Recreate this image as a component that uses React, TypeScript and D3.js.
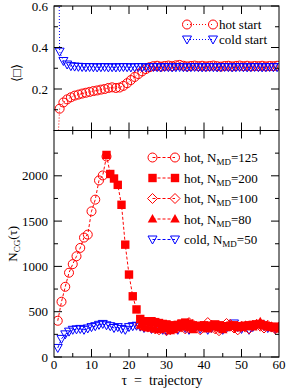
import * as d3 from "d3";

// top panel: plaquette, tau = 1.5 .. 59.5 (step 1)
const hotStart: number[] = [
  0.105, 0.135, 0.150, 0.160, 0.168, 0.173, 0.178, 0.182, 0.186, 0.190,
  0.193, 0.197, 0.200, 0.205, 0.208, 0.205, 0.207, 0.215, 0.228, 0.243,
  0.258, 0.272, 0.285, 0.296, 0.305, 0.310, 0.312, 0.308, 0.311, 0.313,
  0.310, 0.314, 0.316, 0.312, 0.309, 0.311, 0.313, 0.310, 0.312, 0.309,
  0.311, 0.313, 0.310, 0.308, 0.311, 0.312, 0.309, 0.311, 0.313, 0.310,
  0.312, 0.309, 0.311, 0.310, 0.312, 0.309, 0.311, 0.310, 0.312,
];
const coldStart: number[] = [
  0.380, 0.335, 0.318, 0.310, 0.308, 0.307, 0.306, 0.305, 0.306, 0.305,
  0.304, 0.305, 0.306, 0.304, 0.305, 0.304, 0.305, 0.306, 0.305, 0.304,
  0.305, 0.306, 0.305, 0.304, 0.305, 0.306, 0.305, 0.304, 0.306, 0.305,
  0.304, 0.305, 0.306, 0.305, 0.304, 0.305, 0.306, 0.305, 0.304, 0.305,
  0.306, 0.305, 0.304, 0.305, 0.306, 0.305, 0.304, 0.305, 0.306, 0.305,
  0.304, 0.305, 0.306, 0.305, 0.304, 0.305, 0.306, 0.305, 0.305,
];
const topTau = hotStart.map((_, i) => 1.5 + i);
// starting configurations (only the dotted line reaches them)
const hotInit = 0.0;
const coldInit = 1.0;
const initTau = 1.2;

// bottom panel: CG iterations
const hot125: number[] = [400, 610, 775, 930, 1025, 1112, 1204, 1318, 1351, 1608, 1737, 1949, 2004, 2213];
const hot125Tau = hot125.map((_, i) => 1 + i);

const hot200: number[] = [
  2230, 2020, 1970, 1900, 1680, 1240, 910, 670, 525, 420,
  395, 390, 395, 385, 375, 365, 360, 350, 345, 355,
  370, 380, 365, 350, 340, 345, 350, 340, 345, 360,
  350, 340, 330, 345, 350, 340, 335, 345, 350, 355,
  360, 365, 350, 340, 330, 335, 320,
];
const hot200Tau = hot200.map((_, i) => 14 + i);

const hot100: number[] = [
  360, 340, 330, 320, 310, 300, 320, 290, 300, 320,
  350, 330, 310, 380, 360, 320, 300, 340, 380, 350,
  310, 290, 330, 370, 360, 320, 300, 340, 330, 310,
  350, 360, 340, 320, 350, 330, 310, 330,
];
const hot100Tau = hot100.map((_, i) => 23 + i);

const hot80: number[] = [
  350, 330, 320, 330, 310, 300, 320, 310, 290, 300,
  320, 330, 340, 320, 300, 330, 340, 320, 310, 330,
  340, 320, 300, 330, 350, 340, 320, 330, 350, 340,
  330, 360, 390, 350, 330, 340, 320, 310,
];
const hot80Tau = hot80.map((_, i) => 23 + i);

const cold50: number[] = [
  100, 200, 250, 280, 300, 305, 310, 300, 315, 330,
  340, 355, 365, 350, 340, 320, 330, 310, 300, 330,
  340, 345, 335, 320, 330, 310, 320, 330, 300, 290,
  310, 330, 300, 340, 320, 300, 330, 340, 310, 330,
  300, 320, 350, 330, 300, 320, 340, 370, 330, 310,
  340, 300, 330, 350, 360, 340, 320, 330, 310, 320,
];
const cold50Tau = cold50.map((_, i) => 1 + i);

const xTicks = [0, 10, 20, 30, 40, 50, 60];
const topYTicks = [0.2, 0.4, 0.6];
const botYTicks = [0, 500, 1000, 1500, 2000];

const RED = "#ff0000";
const BLUE = "#0000ff";
const FONT = "Liberation Serif, Times New Roman, DejaVu Serif, serif";

type Pt = [number, number];

function marker(kind: string, x: number, y: number, color: string, key: any) {
  const s = 4.2;
  if (kind === "circle")
    return <circle key={key} cx={x} cy={y} r={4.5} fill="none" stroke={color} strokeWidth={1} />;
  if (kind === "square")
    return <rect key={key} x={x - s} y={y - s} width={2 * s} height={2 * s} fill={color} />;
  if (kind === "diamond")
    return <path key={key} d={`M${x},${y - 5}L${x + 5},${y}L${x},${y + 5}L${x - 5},${y}Z`} fill="none" stroke={color} strokeWidth={1} />;
  if (kind === "tri-up")
    return <path key={key} d={`M${x},${y - 5}L${x + 4.8},${y + 3.5}L${x - 4.8},${y + 3.5}Z`} fill={color} />;
  // tri-down
  return <path key={key} d={`M${x - 4.5},${y - 3.5}L${x + 4.5},${y - 3.5}L${x},${y + 4.5}Z`} fill="none" stroke={color} strokeWidth={1} />;
}

export default function App() {
  const W = 287, H = 390;
  const left = 54, right = 279;
  const topY0 = 6, mid = 130.5, botY1 = 357;

  const x = d3.scaleLinear().domain([0, 60]).range([left, right]);
  const yTop = d3.scaleLinear().domain([0, 0.6]).range([mid, topY0]);
  const yBot = d3.scaleLinear().domain([0, 2500]).range([botY1, mid]);

  const lineTop = d3.line<Pt>().x(d => x(d[0])).y(d => yTop(d[1]));
  const lineBot = d3.line<Pt>().x(d => x(d[0])).y(d => yBot(d[1]));

  const hotPts: Pt[] = topTau.map((t, i) => [t, hotStart[i]]);
  const coldPts: Pt[] = topTau.map((t, i) => [t, coldStart[i]]);

  const botSeries = [
    { tau: cold50Tau, v: cold50, kind: "tri-down", color: BLUE },
    { tau: hot125Tau, v: hot125, kind: "circle", color: RED },
    { tau: hot100Tau, v: hot100, kind: "diamond", color: RED },
    { tau: hot80Tau, v: hot80, kind: "tri-up", color: RED },
    { tau: hot200Tau, v: hot200, kind: "square", color: RED },
  ];

  const legendBot = [
    { kind: "circle", color: RED, pre: "hot, N", sub: "MD", post: "=125" },
    { kind: "square", color: RED, pre: "hot, N", sub: "MD", post: "=200" },
    { kind: "diamond", color: RED, pre: "hot, N", sub: "MD", post: "=100" },
    { kind: "tri-up", color: RED, pre: "hot, N", sub: "MD", post: "=80" },
    { kind: "tri-down", color: BLUE, pre: "cold, N", sub: "MD", post: "=50" },
  ];

  const xMinor = d3.range(0, 61, 5);
  const topMinor = d3.range(0, 0.61, 0.1);
  const botMinor = d3.range(0, 2501, 250);

  const tick = (x1: number, y1: number, x2: number, y2: number, k: string) => (
    <line key={k} x1={x1} y1={y1} x2={x2} y2={y2} stroke="#000" strokeWidth={1} />
  );

  const ticks: any[] = [];
  xMinor.forEach(v => {
    const len = v % 10 === 0 ? 8 : 4;
    const px = x(v);
    if (v === 0 || v === 60) return;
    ticks.push(tick(px, topY0, px, topY0 + len, `tt${v}`));
    ticks.push(tick(px, mid, px, mid - len, `tb${v}`));
    ticks.push(tick(px, mid, px, mid + len, `bt${v}`));
    ticks.push(tick(px, botY1, px, botY1 - len, `bb${v}`));
  });
  topMinor.forEach((v, i) => {
    const len = i % 2 === 0 ? 8 : 4;
    const py = yTop(v);
    ticks.push(tick(left, py, left + len, py, `tl${i}`));
    ticks.push(tick(right, py, right - len, py, `tr${i}`));
  });
  botMinor.forEach((v, i) => {
    const len = v % 500 === 0 ? 8 : 4;
    const py = yBot(v);
    ticks.push(tick(left, py, left + len, py, `bl${i}`));
    ticks.push(tick(right, py, right - len, py, `br${i}`));
  });

  return (
    <div style={{ position: "fixed", left: 0, top: 0 }}>
      <svg width={W} height={H} style={{ display: "block", background: "#fff", fontFamily: FONT }}>
        <defs>
          <clipPath id="clipTop"><rect x={left} y={topY0} width={right - left} height={mid - topY0} /></clipPath>
          <clipPath id="clipBot"><rect x={left} y={mid} width={right - left} height={botY1 - mid} /></clipPath>
        </defs>

        {/* top panel */}
        <g clipPath="url(#clipTop)">
          <path d={lineTop([[initTau, hotInit], ...hotPts]) || ""} fill="none" stroke={RED} strokeWidth={1} strokeDasharray="1,2" />
          <path d={lineTop([[initTau, coldInit], ...coldPts]) || ""} fill="none" stroke={BLUE} strokeWidth={1} strokeDasharray="1,2" />
          {hotPts.map((d, i) => marker("circle", x(d[0]), yTop(d[1]), RED, `h${i}`))}
          {coldPts.map((d, i) => marker("tri-down", x(d[0]), yTop(d[1]), BLUE, `c${i}`))}
        </g>

        {/* bottom panel */}
        <g clipPath="url(#clipBot)">
          {botSeries.map((s, si) => (
            <g key={si}>
              <path d={lineBot(s.tau.map((t, i) => [t, s.v[i]] as Pt)) || ""} fill="none" stroke={s.color} strokeWidth={1} strokeDasharray="3,2" />
              {s.tau.map((t, i) => marker(s.kind, x(t), yBot(s.v[i]), s.color, `${si}-${i}`))}
            </g>
          ))}
        </g>

        {/* frames */}
        <rect x={left} y={topY0} width={right - left} height={mid - topY0} fill="none" stroke="#000" strokeWidth={1} />
        <rect x={left} y={mid} width={right - left} height={botY1 - mid} fill="none" stroke="#000" strokeWidth={1} />
        {ticks}

        {/* tick labels */}
        {topYTicks.map(v => (
          <text key={`tyl${v}`} x={left - 6} y={yTop(v)} dy="0.35em" textAnchor="end" fontSize={13}>{v.toFixed(1)}</text>
        ))}
        {botYTicks.map(v => (
          <text key={`byl${v}`} x={left - 6} y={yBot(v)} dy="0.35em" textAnchor="end" fontSize={13}>{v}</text>
        ))}
        {xTicks.map(v => (
          <text key={`xl${v}`} x={x(v)} y={botY1 + 12} textAnchor="middle" fontSize={13}>{v}</text>
        ))}

        {/* axis titles */}
        <text x={162} y={385} textAnchor="middle" fontSize={14}>{"τ\u00a0\u00a0=\u00a0\u00a0trajectory"}</text>
        <text transform={`translate(17,${yBot(1250)}) rotate(-90)`} textAnchor="middle" fontSize={13}>
          N<tspan dy="3" fontSize={9}>CG</tspan><tspan dy="-3">(τ)</tspan>
        </text>
        <text transform={`translate(21,73) rotate(-90)`} textAnchor="middle" fontSize={13}>⟨□⟩</text>

        {/* top legend */}
        {[{ kind: "circle", color: RED, label: "hot start", y: 24.5 }, { kind: "tri-down", color: BLUE, label: "cold start", y: 39.5 }].map((l, i) => (
          <g key={`tl${i}`}>
            <line x1={187} x2={213} y1={l.y} y2={l.y} stroke={l.color} strokeDasharray="1,2" />
            {marker(l.kind, 187, l.y, l.color, "a")}
            {marker(l.kind, 213, l.y, l.color, "b")}
            <text x={219} y={l.y} dy="0.35em" fontSize={13}>{l.label}</text>
          </g>
        ))}

        {/* bottom legend */}
        {legendBot.map((l, i) => {
          const ly = 157.5 + i * 20.5;
          return (
            <g key={`bl${i}`}>
              <line x1={152.5} x2={175} y1={ly} y2={ly} stroke={l.color} strokeDasharray="3,2" />
              {marker(l.kind, 152.5, ly, l.color, "a")}
              {marker(l.kind, 175, ly, l.color, "b")}
              <text x={184} y={ly} dy="0.35em" fontSize={13}>
                {l.pre}<tspan dy="3" fontSize={9}>{l.sub}</tspan><tspan dy="-3">{l.post}</tspan>
              </text>
            </g>
          );
        })}
      </svg>
    </div>
  );
}
